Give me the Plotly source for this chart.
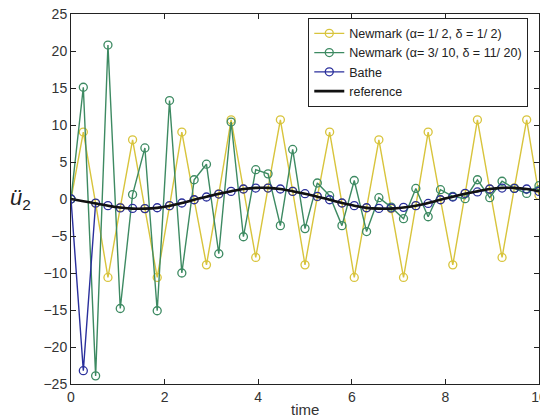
import plotly.graph_objects as go

n_steps = 38
t_end = 10.0
time = [i * t_end / n_steps for i in range(n_steps + 1)]

reference = [0, -0.3, -0.6, -0.9, -1.15, -1.3, -1.3, -1.2, -0.95, -0.55,
             -0.1, 0.3, 0.7, 1.05, 1.35, 1.5, 1.5, 1.35, 1.05, 0.7,
             0.3, -0.1, -0.55, -0.9, -1.2, -1.3, -1.3, -1.15, -0.9, -0.55,
             -0.1, 0.3, 0.7, 1.05, 1.35, 1.5, 1.5, 1.35, 1.05]

newmark_avg = [0, 9.05, -0.6, -10.6, -1.15, 8.0, -1.3, -10.6, -0.95, 9.05,
               -0.1, -8.9, 0.7, 10.7, 1.35, -7.9, 1.5, 10.7, 1.05, -8.9,
               0.3, 9.05, -0.55, -10.6, -1.2, 8.0, -1.3, -10.6, -0.9, 9.05,
               -0.1, -8.9, 0.7, 10.7, 1.35, -7.9, 1.5, 10.7, 0.5]

newmark_damped = [0, 15.1, -23.9, 20.8, -14.8, 0.6, 6.9, -15.1, 13.3, -10.0,
                  2.6, 4.7, -7.4, 10.4, -5.1, 3.96, 3.4, -3.6, 6.7, -4.0,
                  2.16, 0.45, -3.6, 2.5, -4.4, 0.18, -1.1, -2.66, 1.43, -2.4,
                  1.26, 0.35, 0.04, 2.6, 0.18, 2.4, 1.43, 0.76, 1.8]

bathe = [0, -23.2, -0.55, -0.9, -1.2, -1.27, -1.3, -1.18, -0.9, -0.54,
         -0.1, 0.27, 0.67, 1.03, 1.35, 1.48, 1.48, 1.35, 1.03, 0.72,
         0.35, -0.1, -0.54, -0.9, -1.18, -1.27, -1.22, -1.13, -0.9, -0.6,
         -0.1, 0.27, 0.76, 0.95, 1.35, 1.48, 1.43, 1.35, 1.03]

labels = ["Newmark (α= 1/ 2, δ = 1/ 2)",
          "Newmark (α= 3/ 10, δ = 11/ 20)",
          "Bathe",
          "reference"]
colors = ["#d8c43c", "#3d8a62", "#2a2f9c", "#111111"]

fig = go.Figure()
for name, ys, c in zip(labels[:3], [newmark_avg, newmark_damped, bathe], colors[:3]):
    fig.add_trace(go.Scatter(
        x=time, y=ys, name=name, mode="lines+markers",
        line=dict(color=c, width=1.4),
        marker=dict(symbol="circle-open", size=8, color=c, line=dict(width=1.3)),
    ))
fig.add_trace(go.Scatter(
    x=time, y=reference, name=labels[3], mode="lines",
    line=dict(color=colors[3], width=2.6, shape="spline"),
))

axis_common = dict(
    showgrid=False, zeroline=False, showline=True, linecolor="#222222", linewidth=1,
    mirror="ticks", ticks="inside", ticklen=5, tickcolor="#222222",
    ticklabeloverflow="allow",
    tickfont=dict(family="Liberation Sans, Arial, sans-serif", size=14, color="#333333"),
)

fig.update_layout(
    width=540, height=420,
    margin=dict(l=71, r=1, t=14, b=36, autoexpand=False),
    paper_bgcolor="white", plot_bgcolor="white",
    font=dict(family="Liberation Sans, Arial, sans-serif", size=13, color="#222222"),
    xaxis=dict(range=[0, 10], tickvals=[0, 2, 4, 6, 8, 10], automargin=False, **axis_common),
    yaxis=dict(range=[-25, 25], tickvals=[-25, -20, -15, -10, -5, 0, 5, 10, 15, 20, 25],
               automargin=False, **axis_common),
    legend=dict(x=0.507, y=0.99, xanchor="left", yanchor="top",
                bgcolor="white", bordercolor="#222222", borderwidth=1,
                font=dict(size=12.5, color="#222222"), tracegroupgap=0),
    showlegend=True,
)
fig.add_annotation(text="time", xref="paper", yref="paper", x=0.5, y=0,
                   yshift=-36, xanchor="center", yanchor="bottom", showarrow=False,
                   font=dict(size=15, color="#333333"))
fig.add_annotation(text="<i>ü</i><sub>2</sub>", xref="paper", yref="paper", x=0, y=0.5,
                   xshift=-38, xanchor="right", yanchor="middle", showarrow=False,
                   font=dict(size=22, color="#222222"))

fig.write_html("out.html")
